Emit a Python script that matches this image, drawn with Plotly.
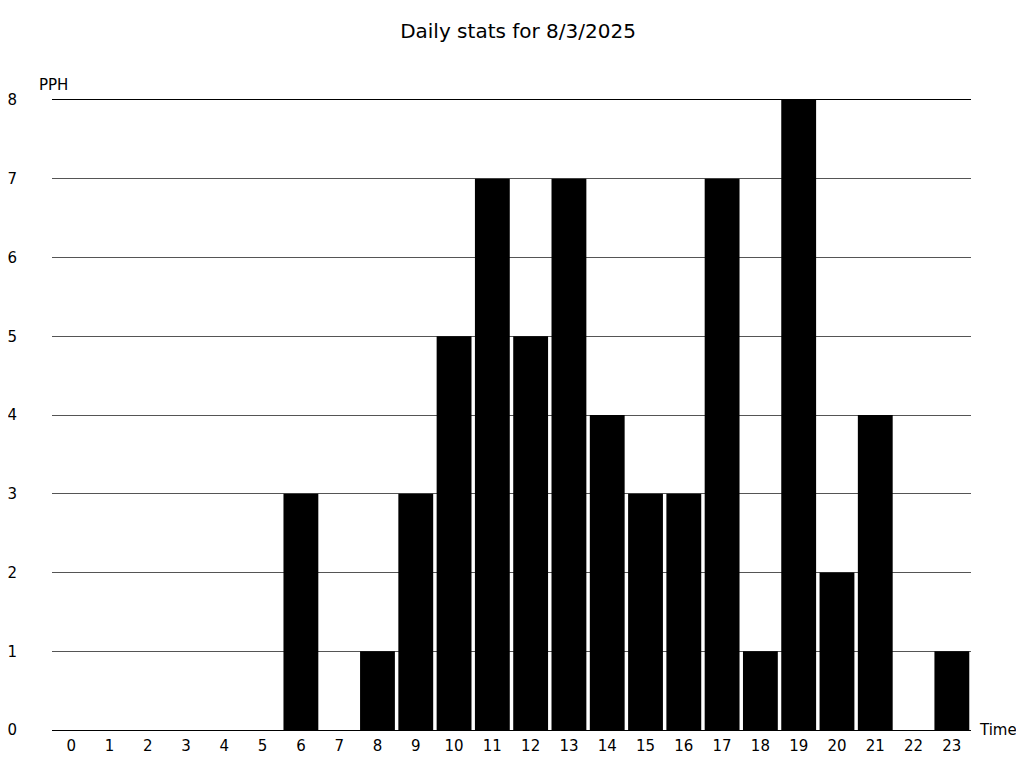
import plotly.graph_objects as go

hours = list(range(24))
pph = [0, 0, 0, 0, 0, 0, 3, 0, 1, 3, 5, 7, 5, 7, 4, 3, 3, 7, 1, 8, 2, 4, 0, 1]
y_ticks = [0, 1, 2, 3, 4, 5, 6, 7, 8]

font = "DejaVu Sans"

fig = go.Figure(go.Bar(x=hours, y=pph, marker=dict(color="black", line=dict(width=0)), width=0.91))

fig.update_layout(
    width=1008, height=752,
    paper_bgcolor="white", plot_bgcolor="white",
    margin=dict(l=44, r=45, t=92, b=30, autoexpand=False),
    font=dict(family=font, size=15, color="black"),
    title=dict(text="Daily stats for 8/3/2025", x=0.506, xanchor="center", y=1 - 23 / 752, yanchor="middle",
               font=dict(family=font, size=20, color="black")),
    showlegend=False,
)
fig.update_xaxes(
    range=[-0.5, 23.5], tickmode="array", tickvals=hours, ticktext=[str(h) for h in hours],
    showgrid=False, zeroline=False, showline=True, mirror=True, linecolor="black", linewidth=1,
    ticks="", ticklabelstandoff=2, fixedrange=True, automargin=False,
)
fig.update_yaxes(
    range=[0, 8], tickmode="array", tickvals=y_ticks, ticktext=[str(v) for v in y_ticks],
    showgrid=True, gridcolor="#555555", gridwidth=1, zeroline=False,
    showline=False, ticks="", ticklabelstandoff=34, fixedrange=True, automargin=False,
)
fig.add_annotation(text="PPH", xref="paper", yref="paper", x=-0.016, y=1.024, xanchor="left", yanchor="middle",
                   showarrow=False, font=dict(family=font, size=15, color="black"))
fig.add_annotation(text="Time", xref="paper", yref="paper", x=1.007, y=0, xanchor="left", yanchor="middle",
                   showarrow=False, font=dict(family=font, size=15, color="black"))

fig.write_html("out.html")
